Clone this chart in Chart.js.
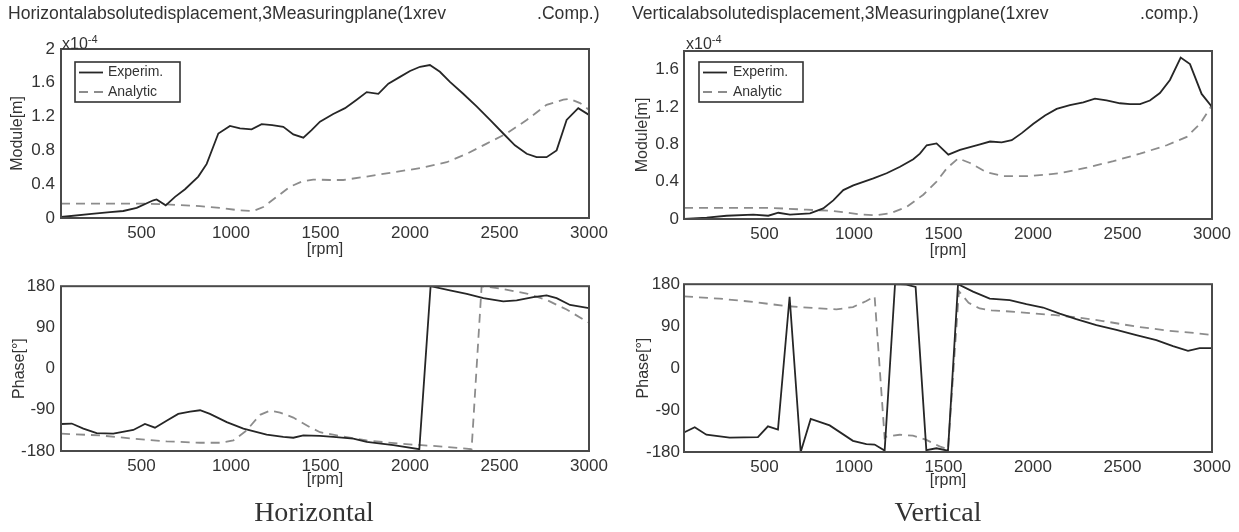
<!DOCTYPE html>
<html>
<head>
<meta charset="utf-8">
<script src="https://cdn.jsdelivr.net/npm/chart.js@4.4.1/dist/chart.umd.min.js"></script>
<style>
  body { margin:0; width:1239px; height:532px; background:#fff; position:relative; overflow:hidden;
         font-family:"Liberation Sans", Arial, sans-serif; color:#333; }
  canvas { position:absolute; }
  .ttl { position:absolute; white-space:pre; font-size:17.6px; line-height:20px; z-index:2; }
  .mult { position:absolute; font-size:16px; line-height:18px; z-index:2; }
  .mult sup { font-size:11px; vertical-align:6px; }
  .cap { position:absolute; font-family:"Liberation Serif", "Times New Roman", serif; font-size:28px;
         line-height:32px; z-index:2; transform:translateX(-50%); }
</style>
</head>
<body>
<div class="ttl" style="left:8px;top:3px">Horizontalabsolutedisplacement,3Measuringplane(1xrev</div>
<div class="ttl" style="left:537px;top:3px">.Comp.)</div>
<div class="ttl" style="left:632px;top:3px">Verticalabsolutedisplacement,3Measuringplane(1xrev</div>
<div class="ttl" style="left:1140px;top:3px">.comp.)</div>
<div class="mult" style="left:62px;top:30px">x10<sup>-4</sup></div>
<div class="mult" style="left:686px;top:30px">x10<sup>-4</sup></div>
<div class="cap" style="left:314px;top:496px">Horizontal</div>
<div class="cap" style="left:938px;top:496px">Vertical</div>

<canvas id="hMod" width="620" height="270" style="left:0;top:0"></canvas>
<canvas id="hPh" width="620" height="262" style="left:0;top:270px"></canvas>
<canvas id="vMod" width="619" height="270" style="left:620px;top:0"></canvas>
<canvas id="vPh" width="619" height="262" style="left:620px;top:270px"></canvas>

<script>
// ---- axis ticks ----
const X_TICKS = [500, 1000, 1500, 2000, 2500, 3000];
const X_TICK_LABELS = ['500', '1000', '1500', '2000', '2500', '3000'];
const MOD_H_TICKS = [0, 0.4, 0.8, 1.2, 1.6, 2];
const MOD_H_TICK_LABELS = ['0', '0.4', '0.8', '1.2', '1.6', '2'];
const MOD_V_TICKS = [0, 0.4, 0.8, 1.2, 1.6];
const MOD_V_TICK_LABELS = ['0', '0.4', '0.8', '1.2', '1.6'];
const PHASE_TICKS = [-180, -90, 0, 90, 180];
const PHASE_TICK_LABELS = ['-180', '-90', '0', '90', '180'];

// ---- horizontal module (x1e-4 m) ----
const hModExpRpm = [50,221,324,398,473,566,584,635,687,743,817,864,929,994,1050,1115,1171,1230,1292,1348,1404,1450,1497,1571,1637,1702,1758,1823,1879,1944,2000,2056,2111,2167,2223,2297,2372,2447,2521,2586,2652,2707,2763,2819,2875,2940,3000];
const hModExp = [0.012,0.05,0.07,0.083,0.12,0.21,0.22,0.15,0.25,0.34,0.49,0.64,1.0,1.09,1.06,1.05,1.11,1.10,1.08,0.99,0.95,1.04,1.14,1.23,1.30,1.40,1.49,1.47,1.59,1.67,1.74,1.79,1.81,1.73,1.61,1.47,1.32,1.16,1.00,0.86,0.76,0.72,0.72,0.80,1.16,1.30,1.22];
const hModAnaRpm = [50,300,500,600,826,938,1050,1124,1180,1255,1329,1394,1459,1553,1627,1758,1905,2056,2205,2317,2428,2540,2652,2763,2857,2890,2950,3000];
const hModAna = [0.17,0.17,0.17,0.165,0.14,0.12,0.09,0.083,0.13,0.25,0.37,0.43,0.455,0.45,0.45,0.49,0.54,0.59,0.66,0.76,0.88,1.00,1.16,1.34,1.40,1.41,1.36,1.28];

// ---- horizontal phase (deg) ----
const hPhExpRpm = [50,110,175,249,342,454,519,575,640,705,771,827,882,976,1069,1199,1292,1348,1404,1497,1571,1683,1758,1907,2052,2115,2223,2317,2410,2521,2596,2689,2763,2819,2894,3000];
const hPhExp = [-121,-120,-131,-141,-142,-134,-121,-129,-114,-99,-94,-91,-99,-117,-131,-144,-149,-151,-146,-147,-149,-153,-160,-167,-176,180,171,163,154,147,149,156,160,154,139,132];
const hPhAnaRpm = [50,268,454,640,827,938,1013,1087,1162,1218,1274,1348,1441,1497,1609,1758,1944,2130,2344,2400,2503,2652,2763,2875,3000];
const hPhAna = [-142,-146,-153,-159,-162,-162,-157,-135,-101,-92,-96,-107,-128,-139,-147,-157,-164,-169,-176,180,175,164,150,129,100];

// ---- vertical module (x1e-4 m) ----
const vModExpRpm = [50,177,288,437,521,577,642,754,828,884,940,996,1108,1182,1257,1331,1368,1406,1461,1527,1592,1648,1704,1760,1825,1881,1937,2002,2067,2132,2206,2281,2346,2411,2486,2542,2598,2653,2709,2765,2825,2877,2942,3000];
const vModExp = [0,0.014,0.035,0.046,0.035,0.067,0.046,0.061,0.114,0.20,0.31,0.36,0.435,0.49,0.56,0.64,0.70,0.79,0.81,0.69,0.74,0.77,0.80,0.83,0.82,0.845,0.92,1.02,1.11,1.18,1.22,1.25,1.29,1.27,1.24,1.23,1.23,1.27,1.35,1.49,1.73,1.66,1.34,1.20];
const vModAnaRpm = [50,521,735,884,1033,1126,1200,1294,1387,1461,1517,1582,1648,1741,1834,1983,2151,2300,2449,2598,2747,2859,2933,3000];
const vModAna = [0.12,0.12,0.10,0.086,0.05,0.04,0.06,0.13,0.26,0.40,0.54,0.65,0.60,0.50,0.46,0.46,0.49,0.55,0.62,0.70,0.79,0.88,1.02,1.22];

// ---- vertical phase (deg) ----
const vPhExpRpm = [50,110,175,305,463,519,575,640,702,758,864,994,1069,1115,1171,1229,1292,1344,1404,1460,1525,1581,1665,1758,1870,1963,2056,2149,2242,2354,2466,2577,2689,2782,2866,2931,3000];
const vPhExp = [-138,-127,-143,-149,-148,-125,-132,153,-180,-109,-123,-156,-163,-164,-177,180,179,174,-176,-172,-177,180,164,149,146,137,130,117,105,92,82,71,60,47,37,43,43];
const vPhAnaRpm = [50,249,435,622,808,901,994,1069,1115,1171,1181,1255,1329,1404,1478,1525,1586,1640,1702,1767,1925,2111,2242,2391,2577,2763,2912,3000];
const vPhAna = [154,149,142,133,128,126,131,144,154,-150,-147,-143,-145,-154,-168,-174,165,140,128,124,120,114,109,101,89,80,75,71];

const TEXT = '#333';
const tickFont = { family: '"Liberation Sans", Arial, sans-serif', size: 17, lineHeight: 1.2 };
const titleFont = { family: '"Liberation Sans", Arial, sans-serif', size: 16, lineHeight: 1.2 };

function pts(xs, ys) { return xs.map((x, i) => ({ x: x, y: ys[i] })); }

// box around the plotting area
const frameBox = {
  id: 'frameBox',
  afterDatasetsDraw(chart) {
    const { ctx, chartArea: a } = chart;
    ctx.save();
    ctx.strokeStyle = '#4a4a4a';
    ctx.lineWidth = 2;
    ctx.strokeRect(a.left, a.top, a.right - a.left, a.bottom - a.top);
    ctx.restore();
  }
};

// legend drawn inside the plotting area
const innerLegend = {
  id: 'innerLegend',
  afterDraw(chart, args, opts) {
    if (!opts || !opts.show) return;
    const { ctx, chartArea: a } = chart;
    const x = a.left + opts.dx, y = a.top + opts.dy;
    ctx.save();
    ctx.fillStyle = '#fff';
    ctx.fillRect(x, y, opts.w, opts.h);
    ctx.strokeStyle = '#333';
    ctx.lineWidth = 1.6;
    ctx.strokeRect(x, y, opts.w, opts.h);
    ctx.font = '14px "Liberation Sans", Arial, sans-serif';
    ctx.textBaseline = 'middle';
    chart.data.datasets.forEach((ds, i) => {
      const cy = y + 10.5 + i * 19.5;
      ctx.strokeStyle = ds.borderColor;
      ctx.lineWidth = ds.borderWidth;
      ctx.setLineDash(ds.borderDash || []);
      ctx.beginPath();
      ctx.moveTo(x + 4, cy);
      ctx.lineTo(x + 28, cy);
      ctx.stroke();
      ctx.setLineDash([]);
      ctx.fillStyle = TEXT;
      ctx.fillText(ds.label, x + opts.tx, cy);
    });
    ctx.restore();
  }
};

function panel(id, c) {
  return new Chart(document.getElementById(id), {
    type: 'line',
    data: {
      datasets: [
        { label: 'Experim.', data: pts(c.expX, c.expY), borderColor: '#262626', borderWidth: 1.8,
          pointRadius: 0, tension: 0, fill: false },
        { label: 'Analytic', data: pts(c.anaX, c.anaY), borderColor: '#8c8c8c', borderWidth: 1.8,
          borderDash: [9, 6], pointRadius: 0, tension: 0, fill: false }
      ]
    },
    options: {
      responsive: false, animation: false, events: [],
      layout: { padding: c.pad },
      plugins: {
        legend: { display: false }, tooltip: { enabled: false },
        innerLegend: c.legend || { show: false }
      },
      scales: {
        x: {
          type: 'linear', min: 50, max: 3000,
          grid: { display: false, drawTicks: false }, border: { display: false },
          afterBuildTicks: s => { s.ticks = X_TICKS.map(v => ({ value: v })); },
          afterFit: s => { s.height = c.xAxisH; },
          ticks: { padding: 5, autoSkip: false, maxRotation: 0, color: TEXT, font: tickFont,
                   callback: (v, i) => X_TICK_LABELS[i] },
          title: { display: true, text: '[rpm]', color: TEXT, font: titleFont, padding: 0 }
        },
        y: {
          type: 'linear', min: c.yMin, max: c.yMax,
          grid: { display: false, drawTicks: false }, border: { display: false },
          afterBuildTicks: s => { s.ticks = c.yTicks.map(v => ({ value: v })); },
          afterFit: s => { s.width = c.yAxisW; },
          ticks: { padding: c.yTickPad, autoSkip: false, color: TEXT, font: tickFont,
                   callback: (v, i) => c.yLabels[i] },
          title: { display: true, text: c.yTitle, color: TEXT, font: titleFont,
                   padding: { top: c.yTitlePad, bottom: 0 } }
        }
      }
    },
    plugins: [frameBox, innerLegend]
  });
}

panel('hMod', {
  expX: hModExpRpm, expY: hModExp, anaX: hModAnaRpm, anaY: hModAna,
  yMin: 0, yMax: 2, yTicks: MOD_H_TICKS, yLabels: MOD_H_TICK_LABELS, yTitle: 'Module[m]',
  pad: { top: 49, right: 31, bottom: 11, left: 0 }, xAxisH: 41, yAxisW: 61, yTickPad: 6, yTitlePad: 8,
  legend: { show: true, dx: 14, dy: 13, w: 105, h: 40, tx: 33 }
});
panel('hPh', {
  expX: hPhExpRpm, expY: hPhExp, anaX: hPhAnaRpm, anaY: hPhAna,
  yMin: -180, yMax: 180, yTicks: PHASE_TICKS, yLabels: PHASE_TICK_LABELS, yTitle: 'Phase[°]',
  pad: { top: 13, right: 31, bottom: 43, left: 0 }, xAxisH: 38, yAxisW: 61, yTickPad: 6, yTitlePad: 10
});
panel('vMod', {
  expX: vModExpRpm, expY: vModExp, anaX: vModAnaRpm, anaY: vModAna,
  yMin: 0, yMax: 1.8, yTicks: MOD_V_TICKS, yLabels: MOD_V_TICK_LABELS, yTitle: 'Module[m]',
  pad: { top: 51, right: 27, bottom: 10, left: 0 }, xAxisH: 41, yAxisW: 64, yTickPad: 5, yTitlePad: 13,
  legend: { show: true, dx: 15, dy: 11, w: 104, h: 40, tx: 34 }
});
panel('vPh', {
  expX: vPhExpRpm, expY: vPhExp, anaX: vPhAnaRpm, anaY: vPhAna,
  yMin: -180, yMax: 180, yTicks: PHASE_TICKS, yLabels: PHASE_TICK_LABELS, yTitle: 'Phase[°]',
  pad: { top: 14, right: 27, bottom: 42, left: 0 }, xAxisH: 38, yAxisW: 64, yTickPad: 4, yTitlePad: 14
});
</script>
</body>
</html>
